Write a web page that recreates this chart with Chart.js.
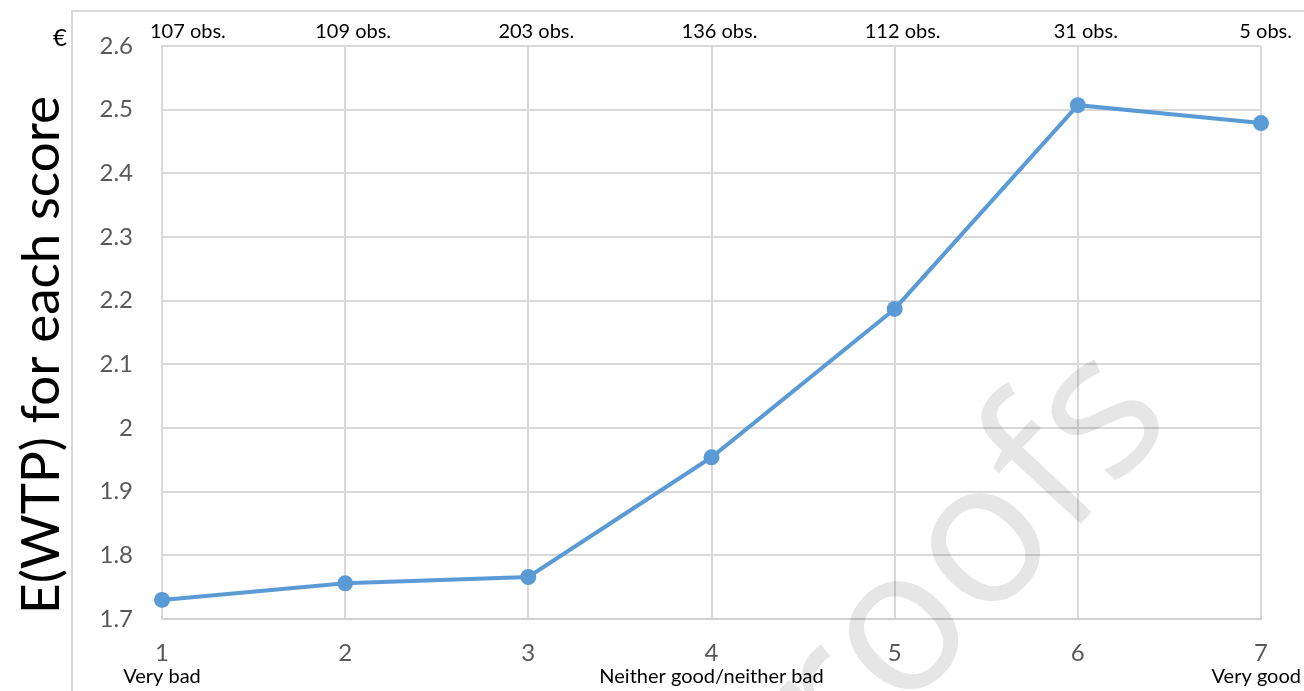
<!DOCTYPE html>
<html>
<head>
<meta charset="utf-8">
<script src="https://cdn.jsdelivr.net/npm/chart.js@4"></script>
<style>
    html, body { margin: 0; padding: 0; background: #fff; }
    #wrap { width: 1304px; height: 691px; }
</style>
</head>
<body>
<div id="wrap"><canvas id="wtpChart" width="1304" height="691"></canvas></div>
<script>
// scores on the x axis
var scores = ['1', '2', '3', '4', '5', '6', '7'];
// expected WTP (euro) for each score
var wtpValues = [1.73, 1.756, 1.766, 1.954, 2.187, 2.507, 2.479];
// number of observations above each score
var obsLabels = ['107 obs.', '109 obs.', '203 obs.', '136 obs.', '112 obs.', '31 obs.', '5 obs.'];
// verbal anchors under the scores
var scoreNames = ['Very bad', '', '', 'Neither good/neither bad', '', '', 'Very good'];
var yTicks = [1.7, 1.8, 1.9, 2, 2.1, 2.2, 2.3, 2.4, 2.5, 2.6];
var yTitle = 'E(WTP) for each score';

var textFont = 'Lato, "Noto Sans", sans-serif';

// frame, axis title, euro sign, obs. counts, verbal labels and the watermark
var extrasPlugin = {
    id: 'extras',
    beforeDraw: function (chart) {
        var c = chart.ctx;
        c.save();
        c.strokeStyle = '#d9d9d9';
        c.lineWidth = 2;
        c.beginPath();
        c.moveTo(72, 691);
        c.lineTo(72, 11);
        c.lineTo(1304, 11);
        c.stroke();

        // y axis title
        c.translate(42, 355);
        c.rotate(-Math.PI / 2);
        c.fillStyle = '#000';
        c.font = '53px ' + textFont;
        c.textAlign = 'center';
        c.textBaseline = 'middle';
        c.fillText(yTitle, 0, 0);
        c.restore();
    },
    afterDraw: function (chart) {
        var c = chart.ctx;
        var xs = chart.scales.x;
        c.save();

        // watermark
        c.globalCompositeOperation = 'multiply';
        c.translate(928, 604);
        c.rotate(-47 * Math.PI / 180);
        c.fillStyle = '#e6e6e6';
        c.font = '200px "Open Sans", sans-serif';
        c.textAlign = 'center';
        c.textBaseline = 'middle';
        c.fillText('proofs', 0, 0);
        c.setTransform(1, 0, 0, 1, 0, 0);
        c.globalCompositeOperation = 'source-over';

        // euro sign
        c.fillStyle = '#000';
        c.font = '24px ' + textFont;
        c.textAlign = 'center';
        c.textBaseline = 'middle';
        c.fillText('€', 60, 38);

        // obs. counts
        c.font = '20px ' + textFont;
        c.textAlign = 'left';
        obsLabels.forEach(function (t, i) {
            var w = c.measureText(t).width;
            var cx = xs.getPixelForValue(i) + 8;
            var left = cx - w / 2;
            if (left < 150) left = 150;
            if (left + w > 1292) left = 1292 - w;
            c.fillText(t, left, 32);
        });

        // verbal anchors
        scoreNames.forEach(function (t, i) {
            if (!t) return;
            var w = c.measureText(t).width;
            var left = xs.getPixelForValue(i) - w / 2;
            if (left < 122) left = 122;
            if (left + w > 1301) left = 1301 - w;
            c.fillText(t, left, 677);
        });
        c.restore();
    }
};

var ctx = document.getElementById('wtpChart').getContext('2d');
var wtpChart = new Chart(ctx, {
    type: 'line',
    data: {
        labels: scores,
        datasets: [{
            data: wtpValues,
            borderColor: '#5b9bd5',
            backgroundColor: '#5b9bd5',
            borderWidth: 4,
            tension: 0,
            pointRadius: 8,
            pointHoverRadius: 8,
            pointBackgroundColor: '#5b9bd5',
            pointBorderWidth: 0
        }]
    },
    options: {
        responsive: false,
        animation: false,
        layout: { padding: { top: 46, right: 43, left: 0, bottom: 0 } },
        plugins: {
            legend: { display: false },
            tooltip: { enabled: false }
        },
        scales: {
            x: {
                offset: false,
                grid: { color: '#d9d9d9', lineWidth: 2, drawTicks: false },
                border: { color: '#d0d0d0', width: 2 },
                ticks: {
                    color: '#595959',
                    padding: 20,
                    font: { family: textFont, size: 24 }
                },
                afterFit: function (scale) { scale.height = 691 - 619; }
            },
            y: {
                min: 1.7,
                max: 2.6,
                afterBuildTicks: function (scale) {
                    scale.ticks = yTicks.map(function (v) { return { value: v }; });
                },
                grid: { color: '#d9d9d9', lineWidth: 2, drawTicks: false },
                border: { color: '#d9d9d9', width: 2 },
                ticks: {
                    color: '#595959',
                    padding: 29,
                    font: { family: textFont, size: 24 },
                    callback: function (v) { return String(Number(v.toFixed(1))); }
                },
                afterFit: function (scale) { scale.width = 162; }
            }
        }
    },
    plugins: [extrasPlugin]
});
</script>
</body>
</html>
